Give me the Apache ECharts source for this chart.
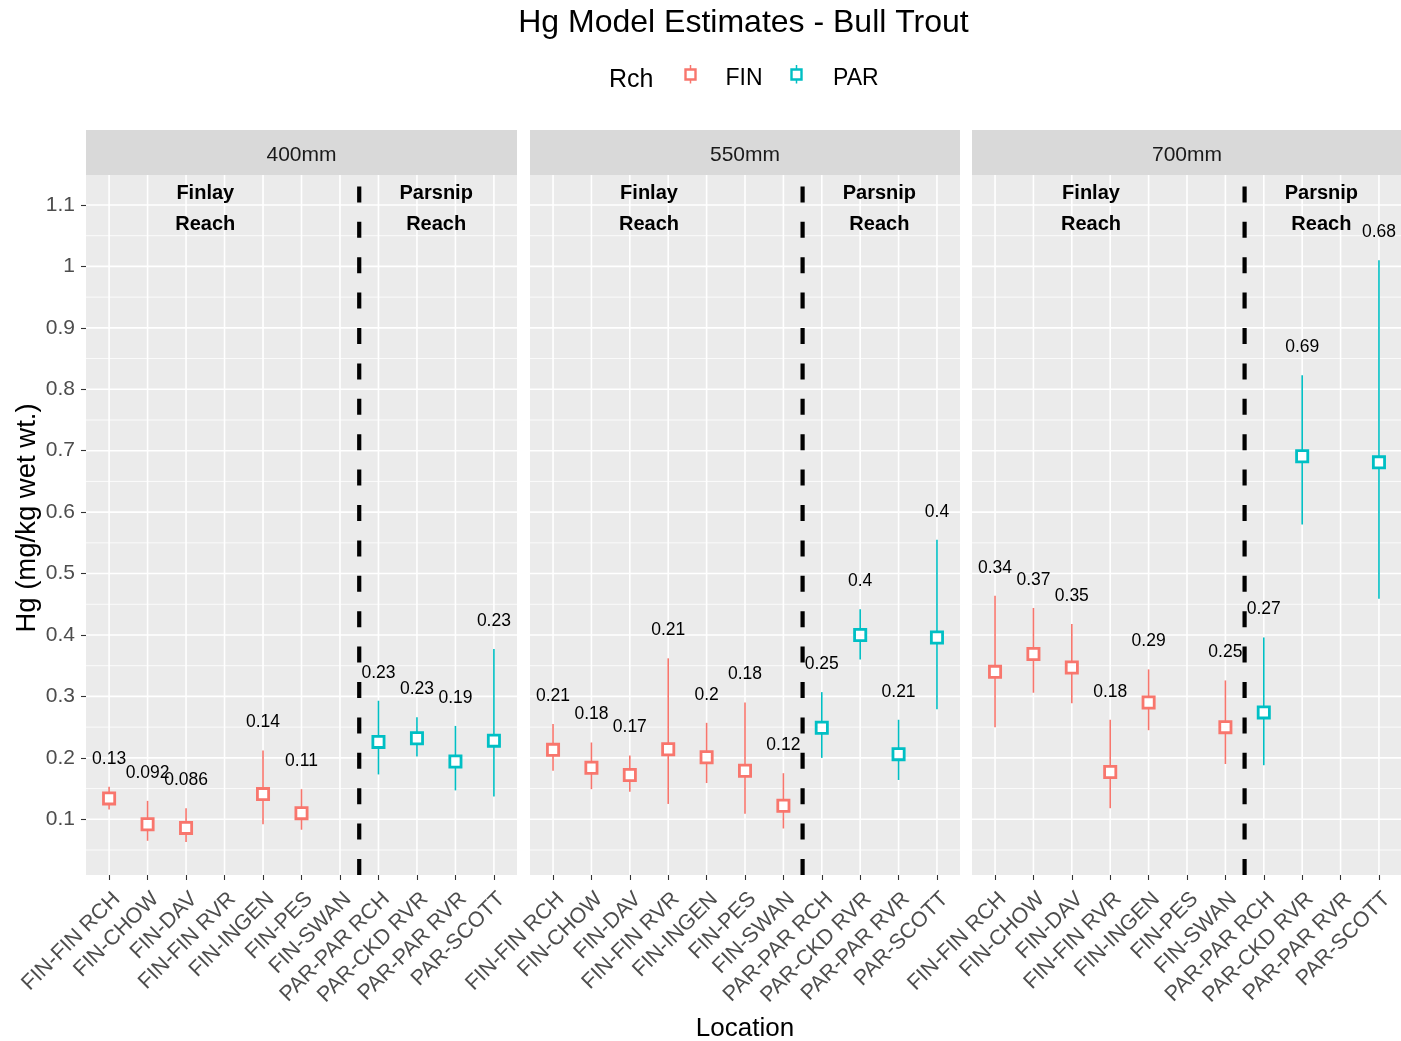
<!DOCTYPE html>
<html>
<head>
<meta charset="utf-8">
<title>Hg Model Estimates - Bull Trout</title>
<script src="https://cdn.jsdelivr.net/npm/echarts@6/dist/echarts.min.js"></script>
<style>
  html, body { margin: 0; padding: 0; background: #ffffff; }
  #chart { width: 1401px; height: 1041px; }
</style>
</head>
<body>
<div id="chart"></div>
<script>
// ---- data -------------------------------------------------------------
const locations = ['FIN-FIN RCH', 'FIN-CHOW', 'FIN-DAV', 'FIN-FIN RVR', 'FIN-INGEN', 'FIN-PES',
                   'FIN-SWAN', 'PAR-PAR RCH', 'PAR-CKD RVR', 'PAR-PAR RVR', 'PAR-SCOTT'];
const sizeClasses = ['400mm', '550mm', '700mm'];
const reaches = ['FIN', 'PAR'];

// model estimate with lower / upper interval per location (null = no estimate)
const est400   = [0.134, 0.092, 0.086, null, 0.141, 0.110, null, 0.226, 0.232, 0.194, 0.228];
const lower400 = [0.116, 0.065, 0.063, null, 0.092, 0.083, null, 0.173, 0.202, 0.147, 0.137];
const upper400 = [0.153, 0.130, 0.118, null, 0.212, 0.149, null, 0.293, 0.266, 0.252, 0.377];

const est550   = [0.213, 0.184, 0.172, 0.214, 0.201, 0.179, 0.122, 0.249, 0.400, 0.206, 0.396];
const lower550 = [0.179, 0.149, 0.145, 0.125, 0.159, 0.109, 0.085, 0.200, 0.360, 0.164, 0.279];
const upper550 = [0.255, 0.225, 0.204, 0.362, 0.257, 0.290, 0.175, 0.307, 0.442, 0.262, 0.555];

const est700   = [0.340, 0.369, 0.347, 0.177, 0.290, null, 0.250, 0.274, 0.691, null, 0.681];
const lower700 = [0.250, 0.306, 0.289, 0.118, 0.245, null, 0.190, 0.188, 0.580, null, 0.459];
const upper700 = [0.464, 0.444, 0.418, 0.262, 0.344, null, 0.326, 0.396, 0.823, null, 1.010];

const yTicks      = [0.1, 0.2, 0.3, 0.4, 0.5, 0.6, 0.7, 0.8, 0.9, 1, 1.1];
const yMinorTicks = [0.05, 0.15, 0.25, 0.35, 0.45, 0.55, 0.65, 0.75, 0.85, 0.95, 1.05];
const xTicks      = [0, 1, 2, 3, 4, 5, 6, 7, 8, 9, 10];

// reach annotations and the Finlay / Parsnip boundary
const reachNotes  = ['Finlay\nReach', 'Parsnip\nReach'];
const reachNoteX  = [2.5, 8.5];
const reachNoteY  = 1.1;
const reachBreakX = 6.5;

// ---- styling / layout ---------------------------------------------------
const FONT = "'Liberation Sans', Arial, Helvetica, sans-serif";
const reachColors = { FIN: '#F8766D', PAR: '#00BFC4' };
const PANEL_LEFT = [86, 530, 972];
const PANEL_W = [431, 430, 430];
const PANEL_TOP = 175;
const PANEL_H = 700;
const STRIP_H = 45;
const Y_MIN = 0.0093, Y_MAX = 1.1488;
const X_MIN = -0.6, X_MAX = 10.6;

const panels = [
  { est: est400, lower: lower400, upper: upper400 },
  { est: est550, lower: lower550, upper: upper550 },
  { est: est700, lower: lower700, upper: upper700 }
];

const fmtSig2 = v => String(Number(v.toPrecision(2)));
const fmtTick = v => String(Math.round(v * 10) / 10);

// ---- render helpers ----------------------------------------------------
function renderHLine(width) {
  return function (params, api) {
    const cs = params.coordSys;
    const y = api.coord([0, api.value(1)])[1];
    return { type: 'line', silent: true,
      shape: { x1: cs.x, y1: y, x2: cs.x + cs.width, y2: y },
      style: { stroke: '#ffffff', lineWidth: width } };
  };
}
function renderVLine(params, api) {
  const cs = params.coordSys;
  const x = api.coord([api.value(0), Y_MIN])[0];
  return { type: 'line', silent: true,
    shape: { x1: x, y1: cs.y, x2: x, y2: cs.y + cs.height },
    style: { stroke: '#ffffff', lineWidth: 1.6 } };
}
function renderBreak(params, api) {
  const cs = params.coordSys;
  const x = api.coord([api.value(0), Y_MIN])[0];
  // drawn upward from the panel floor so the dash pattern starts at the bottom
  return { type: 'line', silent: true,
    shape: { x1: x, y1: cs.y + cs.height, x2: x, y2: cs.y },
    style: { stroke: '#000000', lineWidth: 4.2, lineDash: [16, 19.4], lineCap: 'butt' } };
}
function renderNote(params, api) {
  const p = api.coord([api.value(0), api.value(1)]);
  return { type: 'text', silent: true, x: p[0], y: p[1] + 4,
    style: { text: reachNotes[api.value(2)], fill: '#000000',
      font: 'bold 20px ' + FONT, lineHeight: 31,
      align: 'center', verticalAlign: 'middle',
      textAlign: 'center', textVerticalAlign: 'middle' } };
}
function renderPointRange(params, api) {
  const x = api.value(0), est = api.value(1), lo = api.value(2), hi = api.value(3);
  const pE = api.coord([x, est]);
  const pL = api.coord([x, lo]);
  const pH = api.coord([x, hi]);
  const color = api.visual('color');
  const half = 5.6;
  return { type: 'group', children: [
    { type: 'line', shape: { x1: pL[0], y1: pL[1], x2: pH[0], y2: pH[1] },
      style: { stroke: color, lineWidth: 1.6 } },
    { type: 'rect', shape: { x: pE[0] - half, y: pE[1] - half, width: 2 * half, height: 2 * half },
      style: { fill: '#ffffff', stroke: color, lineWidth: 2.8 } },
    { type: 'text', x: pH[0], y: pH[1] - 28,
      style: { text: fmtSig2(est), fill: '#000000', font: '17.5px ' + FONT,
        align: 'center', verticalAlign: 'middle',
        textAlign: 'center', textVerticalAlign: 'middle' } }
  ] };
}

// ---- build option --------------------------------------------------------
const grids = [], xAxes = [], yAxes = [], series = [];

panels.forEach((panel, p) => {
  grids.push({ left: PANEL_LEFT[p], top: PANEL_TOP, width: PANEL_W[p], height: PANEL_H,
    show: true, backgroundColor: '#EBEBEB', borderWidth: 0, containLabel: false,
    outerBoundsMode: 'none' });

  xAxes.push({
    type: 'value', gridIndex: p, min: X_MIN, max: X_MAX, position: 'bottom',
    name: p === 1 ? 'Location' : '', nameLocation: 'middle', nameGap: 141,
    nameTextStyle: { fontFamily: FONT, fontSize: 26, color: '#000000' },
    axisLine: { show: false, onZero: false },
    splitLine: { show: false },
    axisTick: { show: true, customValues: xTicks, length: 5, lineStyle: { color: '#333333', width: 1.1 } },
    axisLabel: { show: true, customValues: xTicks, formatter: v => locations[Math.round(v)],
      rotate: 45, align: 'right', verticalAlign: 'top', margin: 13,
      fontFamily: FONT, fontSize: 21.5, color: '#4D4D4D' }
  });

  yAxes.push({
    type: 'value', gridIndex: p, min: Y_MIN, max: Y_MAX, show: p === 0, position: 'left',
    name: p === 0 ? 'Hg (mg/kg wet wt.)' : '', nameLocation: 'middle', nameGap: 45,
    nameTextStyle: { fontFamily: FONT, fontSize: 27.5, color: '#000000', padding: [0, 0, 0, 14] },
    axisLine: { show: false, onZero: false },
    splitLine: { show: false },
    axisTick: { show: true, customValues: yTicks, length: 5, lineStyle: { color: '#333333', width: 1.1 } },
    axisLabel: { show: true, customValues: yTicks, formatter: fmtTick, margin: 11,
      fontFamily: FONT, fontSize: 21, color: '#4D4D4D' }
  });

  const axisRef = { xAxisIndex: p, yAxisIndex: p, coordinateSystem: 'cartesian2d' };

  series.push(Object.assign({ type: 'custom', name: 'minor-grid', z: 1, silent: true,
    renderItem: renderHLine(0.8), data: yMinorTicks.map(v => [0, v]) }, axisRef));
  series.push(Object.assign({ type: 'custom', name: 'major-grid', z: 1, silent: true,
    renderItem: renderHLine(1.6), data: yTicks.map(v => [0, v]) }, axisRef));
  series.push(Object.assign({ type: 'custom', name: 'x-grid', z: 1, silent: true,
    renderItem: renderVLine, data: xTicks.map(i => [i, Y_MIN]) }, axisRef));
  series.push(Object.assign({ type: 'custom', name: 'reach-break', z: 2, silent: true,
    renderItem: renderBreak, data: [[reachBreakX, Y_MIN]] }, axisRef));
  series.push(Object.assign({ type: 'custom', name: 'reach-notes', z: 3, silent: true,
    renderItem: renderNote, data: reachNoteX.map((x, k) => [x, reachNoteY, k]) }, axisRef));

  reaches.forEach(reach => {
    const data = [];
    locations.forEach((loc, i) => {
      if (loc.slice(0, 3) === reach && panel.est[i] != null) {
        data.push([i, panel.est[i], panel.lower[i], panel.upper[i]]);
      }
    });
    series.push(Object.assign({ type: 'custom', name: reach, z: 4,
      itemStyle: { color: reachColors[reach] },
      encode: { x: 0, y: [1, 2, 3] },
      renderItem: renderPointRange, data: data }, axisRef));
  });
});

// facet strips and legend
const graphics = [];
sizeClasses.forEach((label, p) => {
  graphics.push({ type: 'rect', silent: true,
    shape: { x: PANEL_LEFT[p], y: PANEL_TOP - STRIP_H, width: PANEL_W[p], height: STRIP_H },
    style: { fill: '#D9D9D9' } });
  graphics.push({ type: 'text', silent: true,
    x: PANEL_LEFT[p] + PANEL_W[p] / 2, y: PANEL_TOP - STRIP_H / 2 + 3,
    style: { text: label, fill: '#1A1A1A', font: '21px ' + FONT,
      align: 'center', verticalAlign: 'middle', textAlign: 'center', textVerticalAlign: 'middle' } });
});

const legendKeys = [
  { reach: 'FIN', keyX: 690.5, textX: 725.5 },
  { reach: 'PAR', keyX: 796.5, textX: 833 }
];
graphics.push({ type: 'text', silent: true, x: 609, y: 80,
  style: { text: 'Rch', fill: '#000000', font: '25px ' + FONT,
    align: 'left', verticalAlign: 'middle', textAlign: 'left', textVerticalAlign: 'middle' } });
legendKeys.forEach(k => {
  const c = reachColors[k.reach];
  graphics.push({ type: 'line', silent: true,
    shape: { x1: k.keyX, y1: 65, x2: k.keyX, y2: 83.5 }, style: { stroke: c, lineWidth: 1.5 } });
  graphics.push({ type: 'rect', silent: true,
    shape: { x: k.keyX - 5, y: 69.5, width: 10, height: 10 },
    style: { fill: '#ffffff', stroke: c, lineWidth: 2.4 } });
  graphics.push({ type: 'text', silent: true, x: k.textX, y: 78.5,
    style: { text: k.reach, fill: '#000000', font: '23px ' + FONT,
      align: 'left', verticalAlign: 'middle', textAlign: 'left', textVerticalAlign: 'middle' } });
});

const option = {
  animation: false,
  backgroundColor: '#ffffff',
  title: {
    text: 'Hg Model Estimates - Bull Trout',
    left: 743.5, top: 7, padding: 0, textAlign: 'center',
    textStyle: { fontFamily: FONT, fontSize: 32, fontWeight: 'normal', color: '#000000' }
  },
  tooltip: { show: false },
  grid: grids,
  xAxis: xAxes,
  yAxis: yAxes,
  series: series,
  graphic: graphics
};

const chart = echarts.init(document.getElementById('chart'), null, { renderer: 'canvas' });
chart.setOption(option);
</script>
</body>
</html>
